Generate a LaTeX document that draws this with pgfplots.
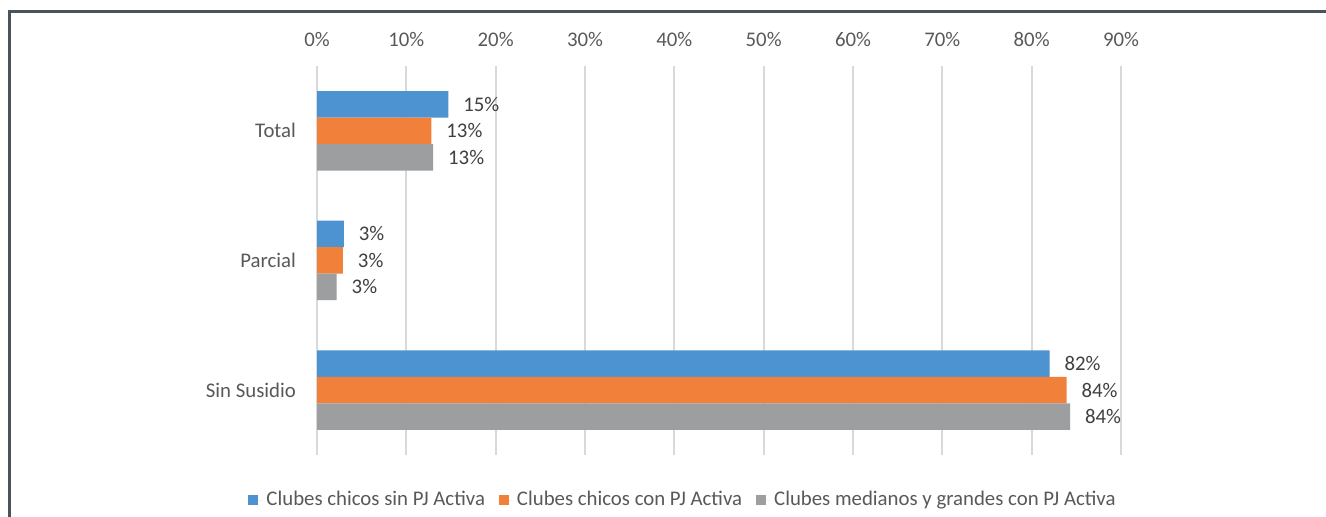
\documentclass[border=0pt]{standalone}
\usepackage{fontspec}
\setmainfont{Carlito}
\usepackage{pgfplots}
\pgfplotsset{compat=1.18}
\definecolor{cblue}{HTML}{4E93D1}
\definecolor{corange}{HTML}{F0803A}
\definecolor{cgray}{HTML}{9C9E9F}
\definecolor{gridgray}{HTML}{D9D9D9}
\definecolor{ticktext}{HTML}{595959}
\definecolor{labeltext}{HTML}{404040}
\definecolor{bordercol}{HTML}{4A525B}
\begin{document}
\begin{tikzpicture}
\path[use as bounding box] (0,0) rectangle (663pt,258.5pt);
\fill[white] (0,0) rectangle (663pt,258.5pt);
\draw[line width=1.5pt, color=bordercol] (4.5pt,0) -- (4.5pt,252.5pt) -- (663pt,252.5pt);
\begin{axis}[
  at={(158.5pt,31pt)}, anchor=south west,
  scale only axis, width=402pt, height=194.5pt,
  xmin=0, xmax=90, ymin=-0.5, ymax=2.5,
  xbar, bar width=13.25pt,
  xtick={0,10,...,90},
  xticklabel={\pgfmathprintnumber{\tick}\%},
  xticklabel pos=upper,
  xticklabel style={yshift=6pt},
  ytick={0,1,2}, yticklabels={Sin Susidio, Parcial, Total},
  yticklabel style={xshift=-7pt},
  major tick length=0pt,
  xmajorgrids, grid style={draw=gridgray, line width=1pt},
  axis line style={draw=none},
  tick label style={font=\fontsize{10.4}{12}\selectfont, text=ticktext},
  /pgf/number format/assume math mode=true,
  nodes near coords, point meta=explicit symbolic,
  every node near coord/.append style={anchor=west, xshift=4pt, font=\fontsize{10.4}{12}\selectfont, text=labeltext},
  legend style={at={(0.4565,-0.1157)}, anchor=center, draw=none, fill=none,
    font=\fontsize{10.4}{12}\selectfont, text=ticktext,
    /tikz/every even column/.append style={column sep=5pt}},
  legend columns=3,
  legend image code/.code={\fill[#1,draw=none] (0pt,-2.5pt) rectangle (5pt,2.5pt); \path (0pt,0pt) -- (7pt,0pt);},
  clip=false,
]
\addplot[fill=cblue, draw=none, bar shift=13.25pt] coordinates {(82.0,0) [82\%] (3.0,1) [3\%] (14.7,2) [15\%]};
\addplot[fill=corange, draw=none, bar shift=0pt] coordinates {(83.9,0) [84\%] (2.9,1) [3\%] (12.8,2) [13\%]};
\addplot[fill=cgray, draw=none, bar shift=-13.25pt] coordinates {(84.3,0) [84\%] (2.2,1) [3\%] (13.0,2) [13\%]};
\legend{Clubes chicos sin PJ Activa, Clubes chicos con PJ Activa, Clubes medianos y grandes con PJ Activa}
\end{axis}
\end{tikzpicture}
\end{document}
